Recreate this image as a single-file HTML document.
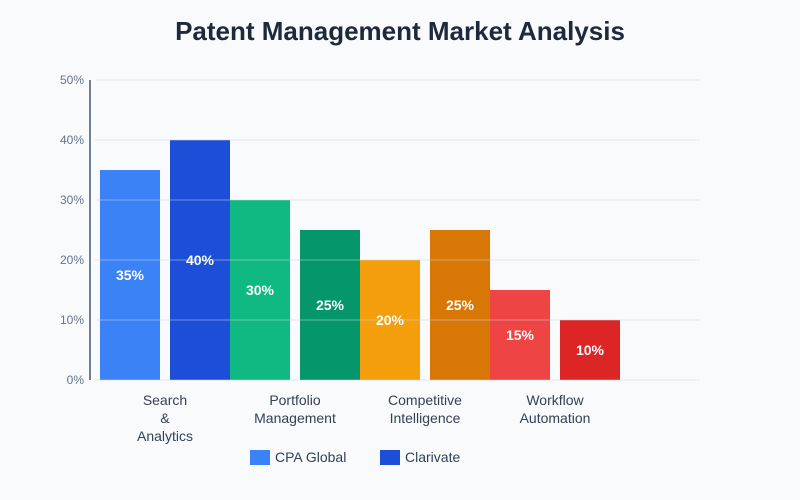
<!DOCTYPE html>
<html><head><meta charset="utf-8"><style>
body{margin:0;background:#f8fafc;font-family:"Liberation Sans",sans-serif;}
svg{display:block}
</style></head><body>
<svg width="800" height="500" id="c">
<rect width="800" height="500" fill="#f8fafc"/>
<text x="400" y="40" text-anchor="middle" font-size="26" font-weight="bold" fill="#1e293b">Patent Management Market Analysis</text>
</svg>
<script>
const categories=[["Search","&","Analytics"],["Portfolio","Management"],["Competitive","Intelligence"],["Workflow","Automation"]];
const cpaGlobal=[35,30,20,15];
const clarivate=[40,25,25,10];
const yTicks=[0,10,20,30,40,50];
const colorsA=["#3b82f6","#10b981","#f59e0b","#ef4444"];
const colorsB=["#1d4ed8","#059669","#d97706","#dc2626"];
const svg=document.getElementById('c');const NS="http://www.w3.org/2000/svg";
function y(v){return 380-v*6;}
function gx(i){return 100+i*130;}
function mk(t,a,p){const e=document.createElementNS(NS,t);for(const k in a)e.setAttribute(k,a[k]);(p||svg).appendChild(e);return e;}
function bar(x,v,c,n){
 const r=mk('rect',{x:x,y:y(v),width:60,height:v*6,fill:c});
 
 
 const t=mk('text',{x:x+30,y:(y(v)+380)/2+5,"text-anchor":"middle","font-size":14,"font-weight":"bold",fill:"#fff"});t.textContent=v+"%";
 
 
}
categories.forEach((c,i)=>{
 bar(gx(i),cpaGlobal[i],colorsA[i],'bar-cpa-'+i);
 bar(gx(i)+70,clarivate[i],colorsB[i],'bar-clarivate-'+i);
 const t=mk('text',{x:gx(i)+65,"text-anchor":"middle","font-size":14,fill:"#334155"});
 
 
 c.forEach((s,j)=>{const ts=mk('tspan',{x:gx(i)+65,y:405+j*18},t);ts.textContent=s;});
});
yTicks.forEach(v=>{
 const l=mk('line',{x1:95,x2:700,y1:y(v),y2:y(v),stroke:"#cbd5e1","stroke-opacity":0.5,"stroke-width":1});
 
 
 const t=mk('text',{x:84,y:y(v)+4,"text-anchor":"end","font-size":12,fill:"#64748b"});t.textContent=v+"%";
 
 
});
const ax=mk('line',{x1:90,x2:90,y1:80,y2:380,stroke:"#475569","stroke-width":1.5});


[["CPA Global","#3b82f6",250],["Clarivate","#1d4ed8",380]].forEach((L,i)=>{
 const g=mk('g',{});
 
 
 mk('rect',{x:L[2],y:450,width:20,height:15,fill:L[1]},g);
 const t=mk('text',{x:L[2]+25,y:462,"font-size":14,fill:"#334155"},g);t.textContent=L[0];
});
</script>
</body></html>
